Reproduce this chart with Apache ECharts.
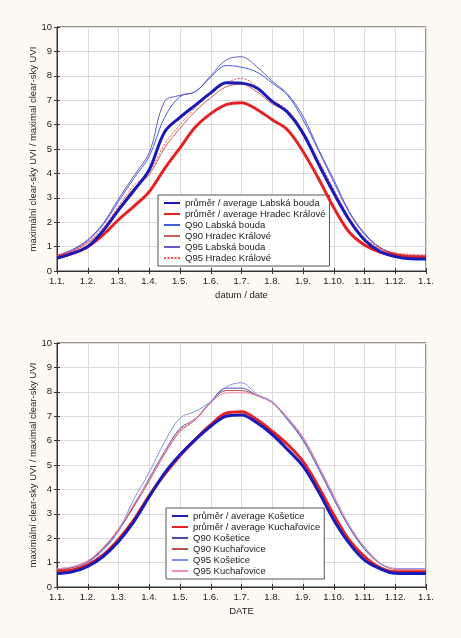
<!DOCTYPE html>
<html><head><meta charset="utf-8">
<script src="https://cdn.jsdelivr.net/npm/echarts@6/dist/echarts.min.js"></script>
<style>html,body{margin:0;padding:0;background:#fef9f2;}#c{width:461px;height:638px;}</style>
</head><body><div id="c"></div>
<script>
// x positions in months from 1 January
var xMonths = [0,0.5,1,1.5,2,2.5,3,3.5,4,4.5,5,5.5,6,6.5,7,7.5,8,8.5,9,9.5,10,10.5,11,11.5,12];
var xTickLabels = ['1.1.','1.2.','1.3.','1.4.','1.5.','1.6.','1.7.','1.8.','1.9.','1.10.','1.11.','1.12.','1.1.'];

// top chart
var avgLabska   = [0.52,0.72,1.0,1.65,2.5,3.3,4.15,5.7,6.3,6.8,7.3,7.72,7.7,7.5,6.95,6.5,5.65,4.4,3.2,2.1,1.27,0.8,0.59,0.5,0.49];
var avgHradec   = [0.56,0.72,1.0,1.48,2.1,2.65,3.25,4.2,5.05,5.9,6.45,6.82,6.9,6.62,6.2,5.78,4.9,3.8,2.6,1.6,1.07,0.78,0.66,0.58,0.56];
var q90Labska   = [0.62,0.85,1.25,1.9,2.85,3.8,4.7,6.3,7.15,7.35,7.95,8.42,8.35,8.15,7.7,7.2,6.2,4.95,3.65,2.4,1.5,0.95,0.7,0.6,0.58];
var q90Hradec   = [0.6,0.8,1.15,1.7,2.55,3.4,3.95,5.05,5.85,6.55,7.1,7.55,7.65,7.35,6.85,6.5,5.55,4.4,3.2,2.1,1.3,0.9,0.7,0.64,0.63];
var q95Labska   = [0.64,0.88,1.28,1.95,2.95,3.9,4.85,6.95,7.2,7.35,8.0,8.65,8.78,8.37,7.78,7.25,6.35,5.0,3.75,2.45,1.55,0.97,0.72,0.62,0.6];
var q95Hradec   = [0.64,0.83,1.2,1.78,2.65,3.5,4.05,5.2,6.0,6.7,7.25,7.7,7.9,7.55,7.0,6.6,5.7,4.55,3.35,2.2,1.38,0.95,0.74,0.68,0.66];

// bottom chart
var avgKosetice = [0.55,0.62,0.84,1.25,1.86,2.68,3.7,4.67,5.42,6.04,6.59,7.0,7.05,6.73,6.25,5.63,4.95,3.92,2.75,1.8,1.1,0.75,0.56,0.55,0.55];
var avgKuch     = [0.65,0.7,0.92,1.32,1.95,2.75,3.75,4.62,5.38,6.05,6.65,7.12,7.18,6.86,6.38,5.84,5.15,4.12,2.96,1.93,1.25,0.8,0.63,0.63,0.63];
var q90Kosetice = [0.72,0.8,1.04,1.55,2.3,3.35,4.45,5.55,6.5,6.9,7.6,8.15,8.15,7.85,7.55,6.85,6.0,4.85,3.6,2.45,1.55,0.97,0.74,0.73,0.73];
var q90Kuch     = [0.7,0.8,1.05,1.6,2.35,3.3,4.35,5.45,6.38,6.85,7.55,8.05,8.05,7.85,7.55,6.9,6.1,4.95,3.7,2.5,1.6,0.98,0.72,0.7,0.7];
var q95Kosetice = [0.75,0.82,1.02,1.5,2.3,3.6,4.7,5.95,6.93,7.2,7.6,8.2,8.37,7.9,7.6,6.9,6.05,4.9,3.65,2.5,1.6,0.98,0.76,0.75,0.75];
var q95Kuch     = [0.74,0.84,1.08,1.62,2.4,3.4,4.4,5.5,6.45,6.9,7.55,7.95,7.96,7.85,7.55,6.95,6.15,5.0,3.75,2.55,1.65,1.0,0.74,0.72,0.72];

var yName = 'maximální clear-sky UVI / maximal clear-sky UVI';
var FONT = 'Liberation Sans, Arial, sans-serif';

function pairs(arr){ return arr.map(function(v,i){ return [xMonths[i], v]; }); }

var chart = echarts.init(document.getElementById('c'), null, {renderer:'canvas'});

var grids = [
  {left:57, top:27, width:369, height:244},
  {left:57, top:343, width:369, height:244}
];
grids.forEach(function(g){ g.show = true; g.backgroundColor = '#ffffff'; g.borderColor = '#333'; g.borderWidth = 1; });

function mainX(gi, name){
  return {type:'value', gridIndex:gi, min:0, max:12, interval:1, position:'bottom',
    name:name, nameLocation:'middle', nameGap:19, nameMoveOverlap:false,
    nameTextStyle:{fontFamily:FONT, fontSize:9.5, color:'#222'},
    axisLine:{show:true, onZero:false, lineStyle:{color:'#333'}},
    axisTick:{show:true, inside:true, length:3, lineStyle:{color:'#333'}},
    axisLabel:{fontFamily:FONT, fontSize:9.5, color:'#222', margin:5, formatter:function(v){ return xTickLabels[Math.round(v)]; }},
    splitLine:{show:true, lineStyle:{color:'#dadada', width:1}}};
}
function topX(gi){
  return {type:'value', gridIndex:gi, min:0, max:12, interval:1, position:'top',
    axisLine:{show:false}, axisTick:{show:true, inside:true, length:3, lineStyle:{color:'#333'}},
    axisLabel:{show:false}, splitLine:{show:false}};
}
function mainY(gi){
  return {type:'value', gridIndex:gi, min:0, max:10, interval:1, position:'left',
    name:yName, nameLocation:'middle', nameGap:19, nameMoveOverlap:false,
    nameTextStyle:{fontFamily:FONT, fontSize:9.5, color:'#222'},
    axisLine:{show:true, lineStyle:{color:'#333'}},
    axisTick:{show:true, inside:true, length:3, lineStyle:{color:'#333'}},
    axisLabel:{fontFamily:FONT, fontSize:9.5, color:'#222', margin:5},
    splitLine:{show:true, lineStyle:{color:'#dadada', width:1}}};
}
function rightY(gi){
  return {type:'value', gridIndex:gi, min:0, max:10, interval:1, position:'right',
    axisLine:{show:false}, axisTick:{show:true, inside:true, length:3, lineStyle:{color:'#333'}},
    axisLabel:{show:false}, splitLine:{show:false}};
}

function line(name, data, xi, yi, color, width, type, z){
  return {name:name, type:'line', xAxisIndex:xi, yAxisIndex:yi, data:pairs(data),
    symbol:'none', smooth:0.35, z:z||2,
    lineStyle:{color:color, width:width, type:type||'solid'}, itemStyle:{color:color}};
}

var topNames = ['průměr / average Labská bouda','průměr / average Hradec Králové','Q90 Labská bouda','Q90 Hradec Králové','Q95 Labská bouda','Q95 Hradec Králové'];
var botNames = ['průměr / average Košetice','průměr / average Kuchařovice','Q90 Košetice','Q90 Kuchařovice','Q95 Košetice','Q95 Kuchařovice'];

function legend(names, left, top){
  return {data:names, orient:'vertical', left:left, top:top, itemWidth:16, itemHeight:10, itemGap:1,
    padding:[3,4,3,5], backgroundColor:'#ffffff', borderColor:'#555', borderWidth:1, borderRadius:0,
    itemStyle:{opacity:0, borderWidth:0},
    textStyle:{fontFamily:FONT, fontSize:9.5, color:'#222', lineHeight:10}, selectedMode:false};
}

var option = {
  backgroundColor:'#fef9f2',
  animation:false,
  grid:grids,
  xAxis:[mainX(0,'datum / date'), mainX(1,'DATE'), topX(0), topX(1)],
  yAxis:[mainY(0), mainY(1), rightY(0), rightY(1)],
  legend:[legend(topNames, 158, 195), legend(botNames, 166, 508)],
  series:[
    line(topNames[2], q90Labska, 0, 0, '#3f5fe0', 1),
    line(topNames[3], q90Hradec, 0, 0, '#c86060', 1),
    line(topNames[4], q95Labska, 0, 0, '#6a58c0', 1),
    line(topNames[5], q95Hradec, 0, 0, '#ff4a4a', 1, [2,1.5]),
    line(topNames[0], avgLabska, 0, 0, '#1a1ab8', 3, 'solid', 5),
    line(topNames[1], avgHradec, 0, 0, '#e42222', 3, 'solid', 4),

    line(botNames[2], q90Kosetice, 1, 1, '#4c4ca8', 1),
    line(botNames[3], q90Kuch, 1, 1, '#b85050', 1),
    line(botNames[4], q95Kosetice, 1, 1, '#7f92ea', 1),
    line(botNames[5], q95Kuch, 1, 1, '#f28fb8', 1),
    line(botNames[0], avgKosetice, 1, 1, '#1a1ab8', 3, 'solid', 5),
    line(botNames[1], avgKuch, 1, 1, '#e42222', 3, 'solid', 4)
  ]
};
chart.setOption(option);
</script>
</body></html>
